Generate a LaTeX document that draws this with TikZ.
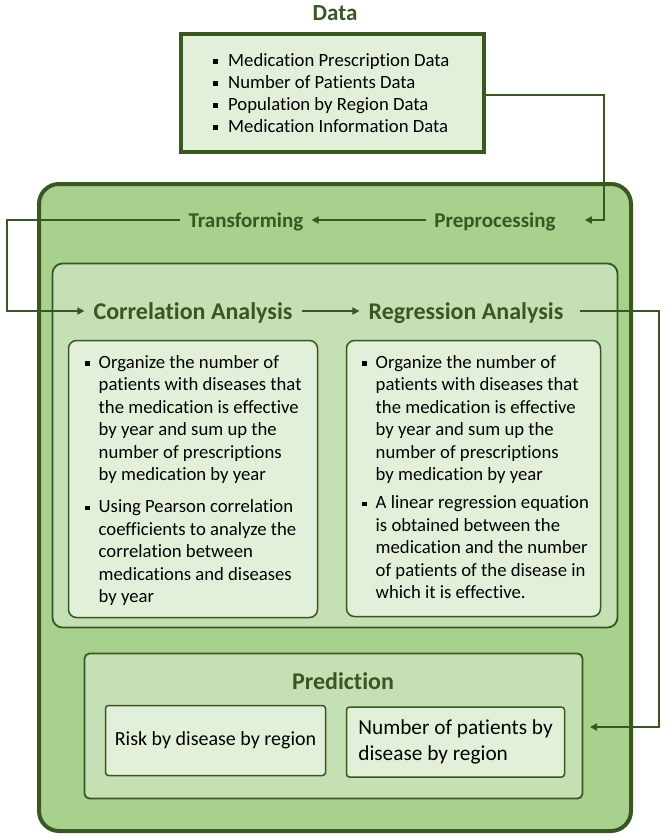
\documentclass[tikz,border=0pt]{standalone}
\usepackage{fontspec}
\setmainfont[Ligatures=NoCommon]{Carlito}
\usetikzlibrary{arrows.meta}
\definecolor{dg}{HTML}{385723}
\definecolor{gA}{HTML}{A9D18E}
\definecolor{gB}{HTML}{C5E0B4}
\definecolor{gC}{HTML}{E2F0D9}
\newcommand{\bl}[1]{\makebox[#1][l]{\raisebox{2.5pt}{\rule{4.3pt}{4.3pt}}}}
\newcommand{\ind}[1]{\hspace*{#1}}
\tikzset{
  bigbox/.style={draw=dg, fill=gA, line width=4pt, rounded corners=20pt, inner sep=0pt},
  databox/.style={draw=dg, fill=gC, line width=4pt, inner sep=0pt},
  midbox/.style={draw=dg, fill=gB, line width=1.8pt, rounded corners=10pt, inner sep=0pt},
  predbox/.style={draw=dg, fill=gB, line width=1.8pt, rounded corners=5pt, inner sep=0pt},
  txtbox/.style={draw=dg, fill=gC, line width=1.5pt, rounded corners=8pt, inner sep=0pt},
  outbox/.style={draw=dg, fill=gC, line width=1.5pt, rounded corners=3pt, inner sep=0pt},
  steplbl/.style={font=\bfseries\fontsize{21}{25}\selectfont, text=dg, inner xsep=8pt, inner ysep=0pt, anchor=base},
  headlbl/.style={font=\bfseries\fontsize{24}{28}\selectfont, text=dg, inner xsep=9pt, inner ysep=0pt, anchor=base},
  bodytxt/.style={font=\fontsize{18.7}{22.5}\selectfont, align=left, inner sep=0pt, anchor=north west},
  conn/.style={draw=dg, line width=2.5pt},
  arr/.style={conn, -{Triangle[length=7pt,width=7pt]}},
}
\begin{document}
\begin{tikzpicture}[x=1pt,y=-1pt]
\useasboundingbox (0,0) rectangle (665,839);
% boxes
\node[bigbox, minimum width=592pt, minimum height=647pt] (main) at (335,507.5) {};
\node[databox, minimum width=303pt, minimum height=118pt] (data) at (332.5,93) {};
\node[midbox, minimum width=565pt, minimum height=364pt] (ana) at (335,445.5) {};
\node[txtbox, minimum width=249pt, minimum height=277pt] (lbox) at (193,479) {};
\node[txtbox, minimum width=254pt, minimum height=276pt] (rbox) at (473.5,478.5) {};
\node[predbox, minimum width=498pt, minimum height=145pt] (pred) at (333.5,726) {};
\node[outbox, minimum width=220pt, minimum height=70pt, font=\fontsize{20}{26}\selectfont] (risk) at (215.5,740.5) {Risk by disease by region};
\node[outbox, minimum width=218pt, minimum height=70pt, align=left, font=\fontsize{21.3}{26}\selectfont] (npat) at (455.5,742) {Number of patients by\\disease by region};
% titles
\node[font=\bfseries\fontsize{23}{27}\selectfont, text=dg, anchor=base] (dtitle) at (335,20.5) {Data};
\node[steplbl] (trans) at (246,227) {Transforming};
\node[steplbl] (prep) at (495,227) {Preprocessing};
\node[headlbl] (corr) at (193,319) {Correlation Analysis};
\node[headlbl] (reg) at (466,319) {Regression Analysis};
\node[headlbl] (ptitle) at (343,689) {Prediction};
% texts
\node[bodytxt, font=\fontsize{18.7}{22}\selectfont] (dtext) at (213,53) {\bl{15pt}\rule{0pt}{12pt}Medication Prescription Data\\
\bl{15pt}Number of Patients Data\\
\bl{15pt}Population by Region Data\\
\bl{15pt}Medication Information Data};
\node[bodytxt] (ltext) at (85,355) {\bl{13.5pt}\rule{0pt}{12pt}Organize the number of\\
\ind{13.5pt}patients with diseases that\\
\ind{13.5pt}the medication is effective\\
\ind{13.5pt}by year and sum up the\\
\ind{13.5pt}number of prescriptions\\
\ind{13.5pt}by medication by year\\[9.5pt]
\bl{13.5pt}Using Pearson correlation\\
\ind{13.5pt}coefficients to analyze the\\
\ind{13.5pt}correlation between\\
\ind{13.5pt}medications and diseases\\
\ind{13.5pt}by year};
\node[bodytxt] (rtext) at (362,355) {\bl{13.5pt}\rule{0pt}{12pt}Organize the number of\\
\ind{13.5pt}patients with diseases that\\
\ind{13.5pt}the medication is effective\\
\ind{13.5pt}by year and sum up the\\
\ind{13.5pt}number of prescriptions\\
\ind{13.5pt}by medication by year\\[5.5pt]
\bl{13.5pt}A linear regression equation\\
\ind{13.5pt}is obtained between the\\
\ind{13.5pt}medication and the number\\
\ind{13.5pt}of patients of the disease in\\
\ind{13.5pt}which it is effective.};
% connectors
\coordinate (ytop) at (0,220);
\coordinate (ymid) at (0,311);
\coordinate (c1) at (604,95);
\coordinate (c2) at (7,220);
\coordinate (c3) at (659,311);
\coordinate (c4) at (590,727);
\draw[arr] (data.east |- c1) -- (c1) |- ([xshift=21pt]prep.east |- ytop);
\draw[arr] (prep.west |- ytop) -- (trans.east |- ytop);
\draw[arr] (trans.west |- ytop) -- (c2) |- (corr.west |- ymid);
\draw[arr] (corr.east |- ymid) -- (reg.west |- ymid);
\draw[arr] ([xshift=7pt]reg.east |- ymid) -- (c3) |- (c4);
\end{tikzpicture}
\end{document}
